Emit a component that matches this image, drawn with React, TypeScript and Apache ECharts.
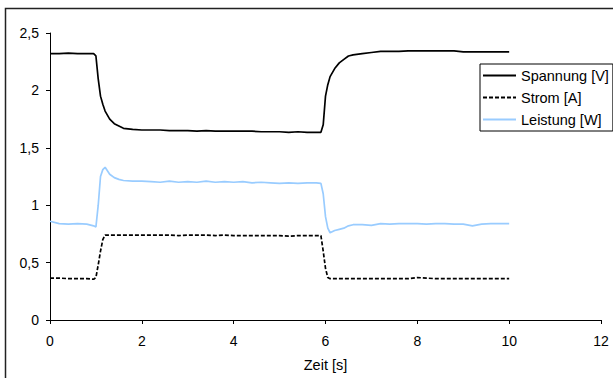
import React, { useEffect, useRef } from "react";
import * as echarts from "echarts";

const time = [0, 0.2, 0.4, 0.6, 0.8, 0.95, 1.0, 1.05, 1.1, 1.15, 1.2, 1.3, 1.4, 1.5, 1.6, 1.8, 2.0, 2.2, 2.4, 2.6, 2.8, 3.0, 3.2, 3.4, 3.6, 3.8, 4.0, 4.2, 4.4, 4.6, 4.8, 5.0, 5.2, 5.4, 5.6, 5.8, 5.9, 5.95, 6.0, 6.05, 6.1, 6.2, 6.3, 6.4, 6.5, 6.6, 6.8, 7.0, 7.2, 7.4, 7.6, 7.8, 8.0, 8.2, 8.4, 8.6, 8.8, 9.0, 9.2, 9.4, 9.6, 9.8, 10.0];

const spannung = [2.32, 2.32, 2.325, 2.32, 2.32, 2.32, 2.3, 2.1, 1.95, 1.88, 1.82, 1.75, 1.71, 1.69, 1.67, 1.66, 1.655, 1.655, 1.655, 1.65, 1.65, 1.65, 1.645, 1.65, 1.645, 1.645, 1.645, 1.645, 1.645, 1.64, 1.64, 1.64, 1.635, 1.64, 1.635, 1.635, 1.635, 1.7, 1.95, 2.05, 2.12, 2.19, 2.24, 2.27, 2.3, 2.31, 2.32, 2.33, 2.34, 2.34, 2.34, 2.345, 2.345, 2.345, 2.345, 2.345, 2.345, 2.335, 2.335, 2.335, 2.335, 2.335, 2.335];

const strom = [0.365, 0.365, 0.36, 0.36, 0.36, 0.355, 0.37, 0.48, 0.6, 0.7, 0.74, 0.74, 0.74, 0.74, 0.74, 0.74, 0.74, 0.74, 0.74, 0.74, 0.735, 0.74, 0.74, 0.74, 0.735, 0.74, 0.735, 0.735, 0.735, 0.735, 0.735, 0.735, 0.73, 0.735, 0.735, 0.735, 0.735, 0.6, 0.45, 0.37, 0.36, 0.36, 0.36, 0.36, 0.36, 0.36, 0.36, 0.36, 0.36, 0.36, 0.36, 0.36, 0.37, 0.365, 0.36, 0.36, 0.36, 0.36, 0.36, 0.36, 0.36, 0.36, 0.36];

const leistung = [0.86, 0.84, 0.835, 0.84, 0.835, 0.82, 0.81, 1.0, 1.25, 1.31, 1.33, 1.27, 1.24, 1.225, 1.215, 1.21, 1.21, 1.205, 1.2, 1.21, 1.2, 1.205, 1.2, 1.21, 1.2, 1.205, 1.2, 1.205, 1.195, 1.2, 1.195, 1.19, 1.195, 1.19, 1.195, 1.195, 1.19, 1.1, 0.9, 0.8, 0.76, 0.78, 0.79, 0.8, 0.82, 0.83, 0.83, 0.825, 0.84, 0.835, 0.84, 0.84, 0.84, 0.835, 0.84, 0.84, 0.835, 0.835, 0.82, 0.835, 0.84, 0.84, 0.84];

const seriesNames = ["Spannung [V]", "Strom [A]", "Leistung [W]"];
const xTicks = { min: 0, max: 12, interval: 2 };
const yTicks = { min: 0, max: 2.5, interval: 0.5 };

const FONT = "'Liberation Sans', Arial, sans-serif";

export default function App() {
  const ref = useRef<HTMLDivElement>(null);
  useEffect(() => {
    if (!ref.current) return;
    const chart = echarts.init(ref.current, null, { renderer: "svg" });
    const zip = (vals: number[]) => time.map((t, i) => [t, vals[i]]);
    chart.setOption({
      animation: false,
      backgroundColor: "#fff",
      textStyle: { fontFamily: FONT },
      grid: { left: 50, right: 12, top: 33, bottom: 58 },
      graphic: [
        {
          type: "rect",
          shape: { x: 5.5, y: 8.5, width: 800, height: 600 },
          style: { fill: "none", stroke: "#222", lineWidth: 1.5 },
          silent: true,
        },
      ],
      legend: {
        orient: "vertical",
        left: 480,
        top: 64,
        itemWidth: 33,
        itemHeight: 14,
        itemGap: 7,
        padding: [4, 4, 4, 2],
        borderColor: "#000",
        borderWidth: 1,
        backgroundColor: "#fff",
        itemStyle: { opacity: 0 },
        textStyle: { fontFamily: FONT, fontSize: 14.5, color: "#000" },
        data: seriesNames,
      },
      xAxis: {
        type: "value",
        min: xTicks.min,
        max: xTicks.max,
        interval: xTicks.interval,
        name: "Zeit [s]",
        nameLocation: "middle",
        nameGap: 37,
        nameTextStyle: { fontFamily: FONT, fontSize: 14.5, color: "#000" },
        axisLine: { show: true, onZero: false, lineStyle: { color: "#000", width: 1 } },
        axisTick: { show: true, length: 4, inside: false, lineStyle: { color: "#000" } },
        axisLabel: { fontFamily: FONT, fontSize: 14, color: "#000", margin: 14 },
        splitLine: { show: false },
      },
      yAxis: {
        type: "value",
        min: yTicks.min,
        max: yTicks.max,
        interval: yTicks.interval,
        axisLine: { show: true, lineStyle: { color: "#000", width: 1 } },
        axisTick: { show: true, length: 4, inside: false, lineStyle: { color: "#000" } },
        axisLabel: {
          fontFamily: FONT,
          fontSize: 14,
          color: "#000",
          margin: 11,
          formatter: (v: number) => String(v).replace(".", ","),
        },
        splitLine: { show: false },
      },
      series: [
        {
          name: seriesNames[0],
          type: "line",
          symbol: "none",
          data: zip(spannung),
          lineStyle: { color: "#000", width: 1.7 },
          itemStyle: { color: "#000" },
          z: 3,
        },
        {
          name: seriesNames[1],
          type: "line",
          symbol: "none",
          data: zip(strom),
          lineStyle: { color: "#000", width: 1.7, type: [4, 2] },
          itemStyle: { color: "#000" },
          z: 2,
        },
        {
          name: seriesNames[2],
          type: "line",
          symbol: "none",
          data: zip(leistung),
          lineStyle: { color: "#99CCFF", width: 1.7 },
          itemStyle: { color: "#99CCFF" },
          z: 1,
        },
      ],
    });
    return () => chart.dispose();
  }, []);
  return (
    <div
      ref={ref}
      style={{ position: "fixed", left: 0, top: 0, width: 613, height: 378 }}
    />
  );
}
